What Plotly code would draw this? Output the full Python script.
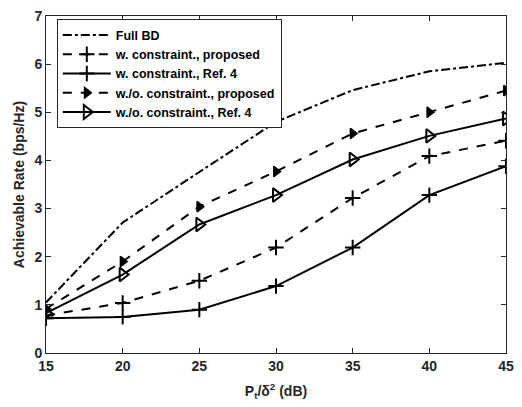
import plotly.graph_objects as go

snr_db = [15, 20, 25, 30, 35, 40, 45]
full_bd = [1.05, 2.71, 3.76, 4.80, 5.46, 5.85, 6.03]
w_prop = [0.78, 1.04, 1.50, 2.19, 3.22, 4.09, 4.41]
w_ref4 = [0.72, 0.75, 0.90, 1.39, 2.19, 3.28, 3.88]
wo_prop = [0.92, 1.90, 3.04, 3.77, 4.56, 5.00, 5.45]
wo_ref4 = [0.83, 1.63, 2.67, 3.28, 4.02, 4.51, 4.87]

names = ["Full BD", "w. constraint., proposed", "w. constraint., Ref. 4",
         "w./o. constraint., proposed", "w./o. constraint., Ref. 4"]

FONT = "Liberation Sans, Arial, sans-serif"
fig = go.Figure()

fig.add_trace(go.Scatter(x=snr_db, y=full_bd, name=names[0], mode="lines",
                         line=dict(color="black", width=2, dash="dashdot")))
fig.add_trace(go.Scatter(x=snr_db, y=w_prop, name=names[1], mode="lines+markers",
                         line=dict(color="black", width=2, dash="dash"),
                         marker=dict(symbol="cross-thin", size=11, color="black",
                                     line=dict(color="black", width=2))))
fig.add_trace(go.Scatter(x=snr_db, y=w_ref4, name=names[2], mode="lines+markers",
                         line=dict(color="black", width=2),
                         marker=dict(symbol="cross-thin", size=11, color="black",
                                     line=dict(color="black", width=2))))
fig.add_trace(go.Scatter(x=snr_db, y=wo_prop, name=names[3], mode="lines+markers",
                         line=dict(color="black", width=2, dash="dash"),
                         marker=dict(symbol="triangle-right", size=9, color="black",
                                     line=dict(color="black", width=1.5))))
fig.add_trace(go.Scatter(x=snr_db, y=wo_ref4, name=names[4], mode="lines+markers",
                         line=dict(color="black", width=2),
                         marker=dict(symbol="triangle-right-open", size=12, color="black",
                                     line=dict(color="black", width=2))))

axis_common = dict(showgrid=False, zeroline=False, showline=True, linecolor="#262626",
                   linewidth=1, mirror="ticks", ticks="inside", ticklen=5,
                   tickcolor="#262626",
                   tickfont=dict(family=FONT, size=14, color="#262626", weight="bold"))

fig.update_layout(
    width=522, height=407,
    margin=dict(l=46, r=8, t=12, b=54),
    paper_bgcolor="white", plot_bgcolor="white",
    xaxis=dict(range=[15, 45], tickvals=[15, 20, 25, 30, 35, 40, 45],
               title=dict(text="P<sub>t</sub>/δ<sup>2</sup> (dB)", standoff=13,
                          font=dict(family=FONT, size=14, color="#262626", weight="bold")),
               **axis_common),
    yaxis=dict(range=[0, 7], tickvals=[0, 1, 2, 3, 4, 5, 6, 7],
               title=dict(text="Achievable Rate (bps/Hz)", standoff=6,
                          font=dict(family=FONT, size=14, color="#262626", weight="bold")),
               **axis_common),
    legend=dict(x=0.0235, y=0.99, xanchor="left", yanchor="top",
                bgcolor="white", bordercolor="#262626", borderwidth=1,
                font=dict(family=FONT, size=12.5, color="black", weight="bold"),
                tracegroupgap=0, itemwidth=48),
    showlegend=True,
)

fig.write_html("out.html")
